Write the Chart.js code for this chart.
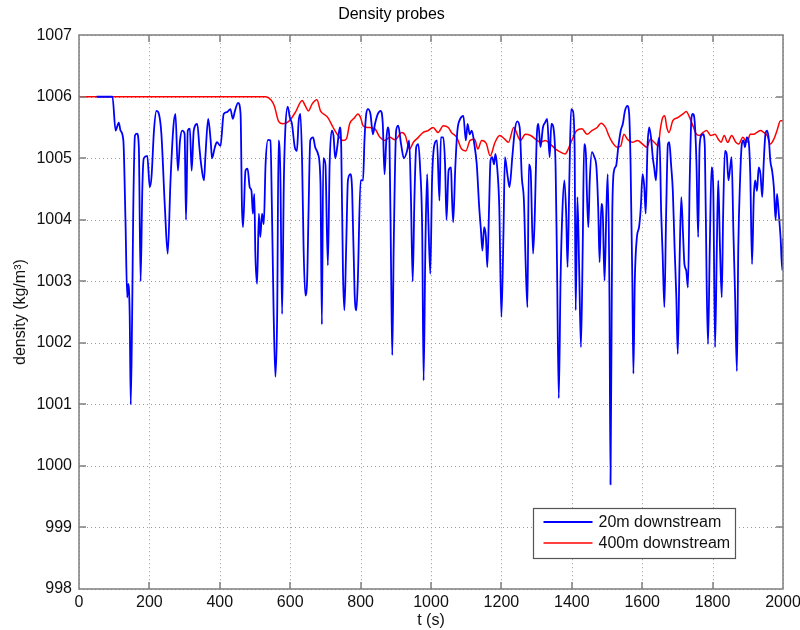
<!DOCTYPE html>
<html>
<head>
<meta charset="utf-8">
<script src="https://cdn.jsdelivr.net/npm/chart.js@4.4.1/dist/chart.umd.min.js"></script>
<style>
  html, body { margin: 0; padding: 0; background: #fff; }
  canvas { display: block; }
</style>
</head>
<body>
<canvas id="probes" width="800" height="630"></canvas>
<script>
// Probe 20 m downstream: time (s) and density (kg/m^3)
const timeNear = [
  50, 95, 104, 113, 118, 126, 132, 137, 140, 144, 147, 151, 154, 159, 165, 170, 175, 180, 184, 194,
  201, 206, 213, 220, 227, 234, 244, 252, 260, 268, 274, 281, 287, 293, 300, 304, 309, 315, 320, 326,
  336, 342, 347, 355, 359, 367, 374, 378, 386, 392, 402, 411, 421, 430, 437, 443, 452, 459, 463, 466,
  473, 479, 485, 490, 494, 498, 501, 506, 511, 515, 520, 525, 530, 537, 544, 548, 553, 558, 563, 567,
  572, 577, 582, 586, 593, 599, 605, 613, 619, 624, 629, 634, 638, 643, 648, 652, 657, 665, 671, 679,
  686, 690, 694, 700, 707, 712, 718, 723, 728, 734, 741, 745, 750, 754, 759, 764, 771, 776, 783, 788,
  792, 800, 807, 811, 816, 821, 828, 835, 841, 849, 857, 863, 868, 873, 877, 882, 887, 890, 894, 901,
  907, 915, 923, 932, 938, 943, 948, 953, 958, 964, 969, 975, 979, 984, 989, 992, 998, 1003, 1009, 1017,
  1024, 1028, 1035, 1040, 1044, 1050, 1057, 1059, 1063, 1069, 1075, 1083, 1092, 1099, 1104, 1110, 1116, 1123, 1130, 1137,
  1142, 1146, 1151, 1156, 1160, 1165, 1169, 1174, 1179, 1183, 1188, 1194, 1200, 1206, 1210, 1217, 1223, 1231, 1238, 1245,
  1252, 1258, 1264, 1269, 1274, 1278, 1283, 1290, 1295, 1300, 1305, 1311, 1318, 1324, 1330, 1337, 1342, 1349, 1354, 1358,
  1363, 1368, 1373, 1379, 1384, 1388, 1393, 1398, 1403, 1408, 1411, 1416, 1421, 1426, 1431, 1435, 1440, 1443, 1447, 1451,
  1457, 1464, 1470, 1475, 1479, 1484, 1488, 1493, 1498, 1502, 1507, 1510, 1515, 1520, 1526, 1532, 1539, 1545, 1551, 1558,
  1563, 1567, 1572, 1575, 1579, 1585, 1591, 1596, 1601, 1606, 1610, 1615, 1620, 1625, 1630, 1634, 1639, 1644, 1649, 1654,
  1658, 1663, 1668, 1673, 1677, 1682, 1687, 1692, 1697, 1701, 1706, 1711, 1716, 1720, 1725, 1730, 1735, 1740, 1744, 1749,
  1754, 1759, 1763, 1768, 1773, 1778, 1783, 1787, 1792, 1797, 1802, 1807, 1812, 1816, 1821, 1826, 1830, 1835, 1840, 1845,
  1850, 1854, 1859, 1864, 1869, 1873, 1878, 1883, 1888, 1892, 1897, 1902, 1907, 1912, 1917, 1921, 1926, 1931, 1936, 1941,
  1945, 1950, 1955, 1960, 1964, 1969, 1974, 1979, 1983, 1988, 1993, 1998, 2000
];
const densityNear = [
  1006.0, 1006.0, 1005.45, 1005.58, 1005.45, 1005.29, 1004.0, 1002.74, 1002.96, 1002.47, 1001.0, 1002.47, 1004.1, 1005.37, 1005.4, 1005.18, 1003.0, 1004.53, 1005.0, 1005.04,
  1004.53, 1004.7, 1005.45, 1005.77, 1005.72, 1005.4, 1004.2, 1003.45, 1004.64, 1005.5, 1005.72, 1004.8, 1005.29, 1005.45, 1005.4, 1004.0, 1005.45, 1005.48, 1004.8, 1005.45,
  1005.56, 1005.18, 1004.9, 1004.64, 1005.02, 1005.64, 1005.29, 1005.0, 1005.18, 1005.26, 1005.2, 1005.72, 1005.75, 1005.8, 1005.64, 1005.77, 1005.9, 1005.72, 1004.2, 1003.88,
  1004.8, 1004.83, 1004.53, 1004.47, 1004.1, 1004.42, 1003.45, 1002.96, 1004.1, 1003.72, 1004.1, 1003.93, 1004.9, 1005.3, 1005.29, 1004.2, 1002.47, 1001.45, 1002.47, 1005.29,
  1004.74, 1002.47, 1004.64, 1005.45, 1005.84, 1005.66, 1005.56, 1005.18, 1005.12, 1005.6, 1005.72, 1004.9, 1003.55, 1002.77, 1003.0, 1004.1, 1005.29, 1005.34, 1005.18, 1005.07,
  1004.6, 1002.3, 1005.0, 1004.9, 1003.26, 1004.9, 1005.45, 1005.37, 1005.0, 1005.2, 1005.5, 1005.18, 1003.12, 1002.53, 1003.55, 1004.64, 1004.74, 1004.47, 1002.8, 1002.53,
  1003.0, 1004.64, 1004.64, 1005.29, 1005.72, 1005.8, 1005.72, 1005.39, 1005.56, 1005.72, 1005.77, 1005.56, 1004.74, 1005.29, 1005.5, 1005.29, 1003.0, 1001.8, 1003.55, 1005.45,
  1005.53, 1005.23, 1005.0, 1005.12, 1005.29, 1004.37, 1003.0, 1004.37, 1005.18, 1005.23, 1004.85, 1003.82, 1001.39, 1003.55, 1004.74, 1004.1, 1003.12, 1004.64, 1005.2, 1005.29,
  1004.31, 1005.34, 1005.34, 1004.9, 1004.0, 1004.8, 1004.85, 1004.47, 1003.96, 1004.85, 1005.45, 1005.64, 1005.69, 1005.29, 1005.56, 1005.39, 1005.45, 1005.23, 1004.9, 1004.2,
  1003.82, 1003.5, 1003.88, 1003.72, 1003.23, 1004.2, 1004.96, 1005.02, 1004.9, 1005.07, 1004.85, 1004.2, 1002.42, 1003.82, 1005.02, 1004.74, 1004.53, 1005.02, 1005.45, 1005.6,
  1005.5, 1004.69, 1004.31, 1003.28, 1002.58, 1004.9, 1004.8, 1003.45, 1004.1, 1005.29, 1005.56, 1005.18, 1005.5, 1005.58, 1005.64, 1005.02, 1005.56, 1005.45, 1004.85, 1003.28,
  1001.1, 1003.01, 1004.1, 1004.64, 1004.1, 1003.23, 1004.64, 1005.8, 1005.77, 1005.18, 1002.53, 1004.37, 1003.18, 1001.93, 1003.55, 1005.23, 1005.07, 1004.42, 1003.88, 1004.64,
  1005.1, 1005.02, 1004.85, 1004.2, 1003.31, 1004.26, 1004.1, 1003.01, 1004.1, 1004.74, 1002.74, 999.7, 1004.1, 1004.8, 1004.88, 1005.18, 1005.45, 1005.56, 1005.77, 1005.85,
  1005.72, 1004.9, 1003.01, 1001.5, 1003.01, 1003.72, 1003.88, 1004.2, 1004.74, 1004.53, 1004.1, 1005.18, 1005.5, 1005.34, 1005.02, 1004.85, 1004.64, 1005.18, 1005.34, 1004.1,
  1003.45, 1002.58, 1004.1, 1005.23, 1005.26, 1004.9, 1004.47, 1003.55, 1002.74, 1001.82, 1003.28, 1004.37, 1003.77, 1003.28, 1003.18, 1002.9, 1004.64, 1005.66, 1005.72, 1005.6,
  1004.96, 1003.72, 1005.18, 1005.37, 1005.39, 1005.18, 1003.01, 1001.98, 1003.55, 1004.85, 1004.47, 1001.93, 1003.55, 1004.64, 1003.55, 1002.74, 1004.1, 1005.12, 1005.07, 1004.64,
  1004.85, 1005.02, 1003.82, 1002.74, 1001.54, 1003.55, 1004.64, 1005.23, 1005.29, 1005.18, 1005.34, 1005.29, 1004.74, 1003.28, 1004.37, 1004.64, 1004.47, 1004.85, 1004.74, 1004.37,
  1004.9, 1005.39, 1005.45, 1005.29, 1004.96, 1004.8, 1004.53, 1004.0, 1004.42, 1004.1, 1003.72, 1003.18, 1003.7
];

// Probe 400 m downstream: time (s) and density (kg/m^3)
const timeFar = [
  0, 100, 300, 450, 530, 545, 555, 567, 579, 596, 615, 634, 643, 652, 662, 676, 686, 700, 707, 722,
  736, 750, 760, 769, 783, 792, 800, 807, 821, 840, 855, 869, 883, 898, 917, 927, 939, 950, 964, 978,
  992, 1006, 1020, 1035, 1049, 1058, 1073, 1087, 1099, 1111, 1124, 1133, 1144, 1157, 1168, 1182, 1195, 1208, 1220, 1235,
  1249, 1254, 1268, 1283, 1297, 1311, 1325, 1339, 1354, 1368, 1381, 1390, 1400, 1414, 1429, 1443, 1457,
  1472, 1483, 1496, 1505, 1515, 1529, 1539, 1548, 1558, 1572, 1587, 1601, 1613, 1623, 1634, 1646, 1651, 1658, 1664, 1670,
  1676, 1687, 1701, 1716, 1725, 1735, 1744, 1754, 1763, 1773, 1783, 1795, 1807, 1816, 1824, 1833, 1843, 1854, 1866, 1874,
  1886, 1898, 1907, 1917, 1926, 1936, 1945, 1955, 1964, 1974, 1983, 1993, 2000
];
const densityFar = [
  1006.0, 1006.0, 1006.0, 1006.0, 1006.0, 1005.95, 1005.85, 1005.6, 1005.56, 1005.6, 1005.75, 1005.94, 1005.85, 1005.77, 1005.88, 1005.95, 1005.77, 1005.7, 1005.66, 1005.5,
  1005.37, 1005.29, 1005.32, 1005.56, 1005.66, 1005.72, 1005.66, 1005.53, 1005.5, 1005.48, 1005.34, 1005.29, 1005.34, 1005.3, 1005.42, 1005.37, 1005.15, 1005.26, 1005.34, 1005.42,
  1005.45, 1005.5, 1005.42, 1005.53, 1005.5, 1005.42, 1005.34, 1005.15, 1005.12, 1005.29, 1005.31, 1005.15, 1005.29, 1005.24, 1005.04, 1005.26, 1005.37, 1005.32, 1005.26, 1005.5,
  1005.33, 1005.29, 1005.39, 1005.37, 1005.31, 1005.26, 1005.29, 1005.23, 1005.15, 1005.1, 1005.07, 1005.15, 1005.29, 1005.45, 1005.48, 1005.39, 1005.45,
  1005.5, 1005.57, 1005.5, 1005.37, 1005.26, 1005.18, 1005.2, 1005.39, 1005.31, 1005.26, 1005.29, 1005.23, 1005.18, 1005.31, 1005.26, 1005.2, 1005.45, 1005.66, 1005.69, 1005.5,
  1005.42, 1005.61, 1005.66, 1005.72, 1005.76, 1005.66, 1005.53, 1005.39, 1005.37, 1005.42, 1005.45, 1005.37, 1005.39, 1005.31, 1005.26, 1005.37, 1005.26, 1005.37, 1005.26, 1005.23,
  1005.34, 1005.26, 1005.39, 1005.39, 1005.42, 1005.45, 1005.42, 1005.37, 1005.23, 1005.31, 1005.45, 1005.61, 1005.61
];

// Axis tick values
const timeTicks = [0, 200, 400, 600, 800, 1000, 1200, 1400, 1600, 1800, 2000];
const densityTicks = [998, 999, 1000, 1001, 1002, 1003, 1004, 1005, 1006, 1007];

const seriesLabels = ['20m downstream', '400m downstream'];

const FONT = '"Liberation Sans", Arial, Helvetica, sans-serif';
Chart.defaults.font.family = FONT;
Chart.defaults.font.size = 16;
Chart.defaults.color = '#000';

const toPoints = (xs, ys) => xs.map((x, i) => ({ x: x, y: ys[i] }));

// Dotted grid underneath the curves, boxed frame with inward ticks on top
const matlabAxes = {
  id: 'matlabAxes',
  beforeDatasetsDraw(chart) {
    const { ctx, chartArea: a, scales: { x, y } } = chart;
    ctx.save();
    ctx.strokeStyle = '#9a9a9a';
    ctx.lineWidth = 1;
    ctx.setLineDash([1, 3]);
    ctx.beginPath();
    x.ticks.forEach(t => {
      const px = Math.round(x.getPixelForValue(t.value)) + 0.5;
      ctx.moveTo(px, a.top); ctx.lineTo(px, a.bottom);
    });
    y.ticks.forEach(t => {
      const py = Math.round(y.getPixelForValue(t.value)) + 0.5;
      ctx.moveTo(a.left, py); ctx.lineTo(a.right, py);
    });
    ctx.stroke();
    ctx.restore();
  },
  afterDatasetsDraw(chart) {
    const { ctx, chartArea: a, scales: { x, y } } = chart;
    const L = Math.round(a.left), R = Math.round(a.right);
    const T = Math.round(a.top), B = Math.round(a.bottom);
    const tick = 7;
    ctx.save();
    ctx.strokeStyle = '#7f7f7f';
    ctx.lineWidth = 1.5;
    ctx.beginPath();
    ctx.rect(L, T, R - L, B - T);
    x.ticks.forEach(t => {
      const px = Math.round(x.getPixelForValue(t.value));
      ctx.moveTo(px, B); ctx.lineTo(px, B - tick);
      ctx.moveTo(px, T); ctx.lineTo(px, T + tick);
    });
    y.ticks.forEach(t => {
      const py = Math.round(y.getPixelForValue(t.value));
      ctx.moveTo(L, py); ctx.lineTo(L + tick, py);
      ctx.moveTo(R, py); ctx.lineTo(R - tick, py);
    });
    ctx.stroke();
    ctx.restore();
  }
};

// Boxed legend in the lower right of the plot area
const boxedLegend = {
  id: 'boxedLegend',
  afterDraw(chart) {
    const { ctx, chartArea: a } = chart;
    const w = 202, h = 50;
    const x0 = Math.round(a.right - 48 - w) + 0.5;
    const y0 = Math.round(a.bottom - 31 - h) + 0.5;
    ctx.save();
    ctx.fillStyle = '#fff';
    ctx.fillRect(x0, y0, w, h);
    ctx.strokeStyle = '#555';
    ctx.lineWidth = 1.2;
    ctx.strokeRect(x0, y0, w, h);
    ctx.font = '16px ' + FONT;
    ctx.textBaseline = 'middle';
    ctx.textAlign = 'left';
    chart.data.datasets.forEach((ds, i) => {
      const cy = y0 + 13.5 + i * 21;
      ctx.strokeStyle = ds.borderColor;
      ctx.lineWidth = ds.borderWidth;
      ctx.beginPath();
      ctx.moveTo(x0 + 10, cy); ctx.lineTo(x0 + 59, cy);
      ctx.stroke();
      ctx.fillStyle = '#111';
      ctx.fillText(ds.label, x0 + 65, cy + 1);
    });
    ctx.restore();
  }
};

new Chart(document.getElementById('probes'), {
  type: 'line',
  data: {
    datasets: [
      {
        label: seriesLabels[0],
        data: toPoints(timeNear, densityNear),
        borderColor: '#0000ff',
        borderWidth: 1.8,
        pointRadius: 0,
        cubicInterpolationMode: 'monotone',
        borderJoinStyle: 'round'
      },
      {
        label: seriesLabels[1],
        data: toPoints(timeFar, densityFar),
        borderColor: '#ff0000',
        borderWidth: 1.5,
        pointRadius: 0,
        cubicInterpolationMode: 'monotone',
        borderJoinStyle: 'round'
      }
    ]
  },
  options: {
    responsive: false,
    animation: false,
    layout: { padding: { left: 0, right: 17, top: 0, bottom: 0 } },
    plugins: {
      legend: { display: false },
      tooltip: { enabled: false },
      title: {
        display: true,
        text: 'Density probes',
        color: '#000',
        font: { size: 16, weight: 'normal', family: FONT },
        padding: { top: 5, bottom: 11 }
      }
    },
    scales: {
      x: {
        type: 'linear',
        min: 0,
        max: 2000,
        afterBuildTicks: s => { s.ticks = timeTicks.map(v => ({ value: v })); },
        afterFit: s => { s.height = 41; s.paddingLeft = 5; s.paddingRight = 10; },
        grid: { display: false, drawTicks: false },
        border: { display: false },
        ticks: { padding: 4, color: '#111', maxRotation: 0, callback: v => String(v) },
        title: { display: true, text: 't (s)', color: '#111', padding: { top: 0, bottom: 0 } }
      },
      y: {
        type: 'linear',
        min: 998,
        max: 1007,
        afterBuildTicks: s => { s.ticks = densityTicks.map(v => ({ value: v })); },
        afterFit: s => { s.width = 79; },
        grid: { display: false, drawTicks: false },
        border: { display: false },
        ticks: { padding: 7, color: '#111', callback: v => String(v) },
        title: { display: true, text: 'density (kg/m³)', color: '#111', padding: { top: 11, bottom: 0 } }
      }
    }
  },
  plugins: [matlabAxes, boxedLegend]
});
</script>
</body>
</html>
